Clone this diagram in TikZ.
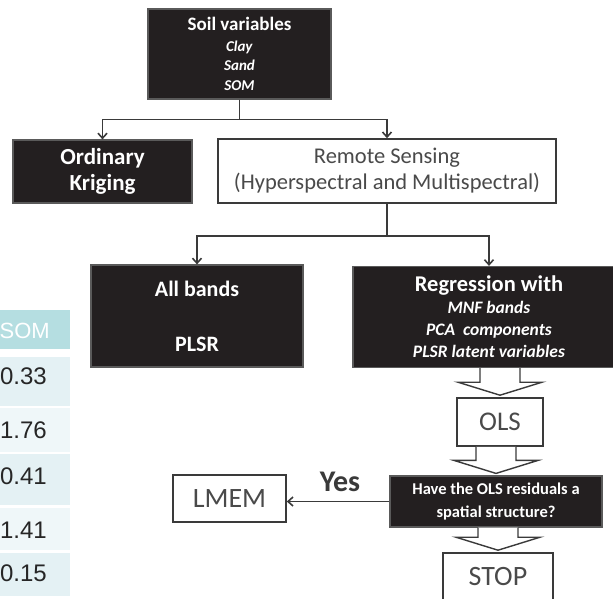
\documentclass[tikz,border=0pt]{standalone}
\usepackage{fontspec}
\setmainfont{Carlito}
\newfontfamily\tablefont{Liberation Sans}
\usetikzlibrary{arrows.meta,calc,positioning}
\definecolor{boxblack}{HTML}{231F20}
\definecolor{boxedge}{HTML}{5A5A5A}
\definecolor{inkgrey}{HTML}{3A3A3A}
\definecolor{softgrey}{HTML}{4A4A4A}
\definecolor{headteal}{HTML}{B5DEE1}
\definecolor{rowdark}{HTML}{E4F1F4}
\definecolor{rowlight}{HTML}{EFF7F9}

\begin{document}
\begin{tikzpicture}[x=1pt,y=-1pt,
		darkbox/.style={draw=boxedge,line width=1.2pt,fill=boxblack,text=white,align=center,inner sep=0pt},
		lightbox/.style={draw=inkgrey,line width=1.6pt,fill=white,text=softgrey,align=center,inner sep=0pt},
		link/.style={draw=inkgrey,line width=1.6pt},
		tip/.style={-{Straight Barb[length=5pt,width=9pt]}},
		hollow/.style={draw=inkgrey,line width=1.4pt,fill=white,line join=miter},
		cellnum/.style={anchor=east,inner sep=0pt,text=black!85,font=\tablefont\fontsize{24}{26}\selectfont}]
				\clip(0,0)rectangle(613,598);
				\fill[headteal](0,310)rectangle(70,349);
				\node[cellnum,text=white,font=\tablefont\fontsize{22}{24}\selectfont] (somhead) at (50,331) {SOM};
				\foreach \top/\bot/\val/\ty/\shade [count=\i] in {357/406/0.33/376/rowdark,408/452/1.76/430/rowlight,454/505/0.41/476/rowdark,508/550/1.41/530/rowlight,553/596/0.15/573/rowdark}{
					\fill[\shade](0,\top)rectangle(70,\bot);
					\node[cellnum] (cell\i) at (47,\ty) {\val};
				}
				\node[darkbox,minimum width=183pt,minimum height=90pt,font=\bfseries\fontsize{15}{19.5}\selectfont] (soil) at (239.5,54) {{\fontsize{19}{20}\selectfont Soil variables}\\[1pt]\textit{Clay}\\\textit{Sand}\\\textit{SOM}};
				\node[darkbox,minimum width=179pt,minimum height=63pt,font=\bfseries\fontsize{23}{26}\selectfont] (kriging) at (102.5,171.5) {Ordinary\\Kriging};
				\node[lightbox,minimum width=338pt,minimum height=64pt,font=\fontsize{22.5}{26}\selectfont] (remote) at (387,171) {Remote Sensing\\(Hyperspectral and Multispectral)};
				\node[darkbox,minimum width=212pt,minimum height=102pt,font=\bfseries\fontsize{22}{26}\selectfont] (allbands) at (197,316) {All bands\\[29pt]PLSR};
				\node[darkbox,minimum width=272pt,minimum height=101pt,font=\bfseries\fontsize{17.5}{22}\selectfont] (regress) at (489,317) {{\fontsize{22.5}{24}\selectfont Regression with}\\\textit{MNF bands}\\\textit{PCA\ \ components}\\\textit{PLSR latent variables}};
				\node[lightbox,minimum width=86pt,minimum height=48pt,font=\fontsize{27}{30}\selectfont] (ols) at (500,422) {OLS};
				\node[darkbox,minimum width=212pt,minimum height=51pt,font=\bfseries\fontsize{16.5}{23}\selectfont] (question) at (496,501.5) {Have the OLS residuals a\\spatial structure?};
				\node[lightbox,minimum width=110pt,minimum height=47pt,font=\fontsize{28}{30}\selectfont] (stop) at (498,576.5) {STOP};
				\node[lightbox,minimum width=113pt,minimum height=47pt,font=\fontsize{28}{30}\selectfont] (lmem) at (229.5,498.5) {LMEM};
				\node[text=inkgrey,font=\bfseries\fontsize{30}{32}\selectfont] (yes) at (340,482) {Yes};
				\draw[link,tip](soil.south)--($(soil.south)+(0,20)$)-|(kriging.north);
				\draw[link,tip](soil.south)--($(soil.south)+(0,20)$)-|(remote.north);
				\draw[link,tip](remote.south)--($(remote.south)+(0,32)$)-|(allbands.north);
				\draw[link,tip](remote.south)--($(remote.south)+(0,32)$)-|(regress.north);
				\draw[link,tip](question.west)--(question.west-|lmem.east);
				\foreach \a/\b in {regress/ols,ols/question,question/stop}
					\draw[hollow]($(\a.south-|\b.north)+(-20,0)$)--($(\b.north)+(-20,-15)$)--($(\b.north)+(-42,-15)$)--($(\b.north)+(0,-2)$)--($(\b.north)+(42,-15)$)--($(\b.north)+(20,-15)$)--($(\a.south-|\b.north)+(20,0)$);
			\end{tikzpicture}
\end{document}
